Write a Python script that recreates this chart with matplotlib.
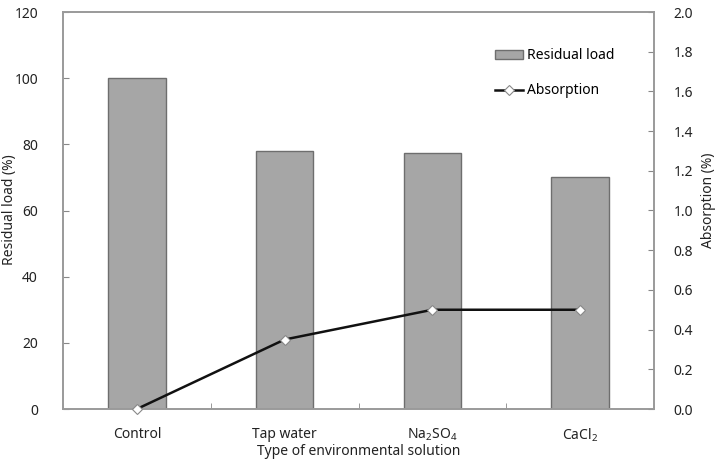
import matplotlib
matplotlib.use("Agg")
import matplotlib.pyplot as plt
import numpy as np

categories = ["Control", "Tap water", "Na$_2$SO$_4$", "CaCl$_2$"]
residual_load = [100, 78, 77.5, 70]
absorption = [0.0, 0.35, 0.50, 0.50]

plt.rcParams['font.family'] = ['Noto Sans', 'DejaVu Sans']
plt.rcParams['mathtext.fontset'] = 'custom'
plt.rcParams['mathtext.rm'] = 'Noto Sans'
plt.rcParams['mathtext.it'] = 'Noto Sans'

fig = plt.figure(figsize=(7.18, 4.61), dpi=100)
ax = fig.add_axes([63/718, 1 - 409/461, (654-63)/718, (409-12)/461])
x = np.arange(len(categories))
ax.bar(x, residual_load, width=0.39, color='#a6a6a6', edgecolor='#6e6e6e', linewidth=1.0,
       label='Residual load', zorder=2)
ax.set_xlim(-0.5, len(categories) - 0.5)
ax.set_ylim(0, 120)
ax.set_yticks(np.arange(0, 121, 20))
ax.set_xticks(x)
ax.set_xticklabels(categories, fontsize=10)
ax.set_xticks(np.arange(-0.5, len(categories), 1), minor=True)
ax.tick_params(axis='x', which='major', length=0, pad=13, colors='#222222')
ax.tick_params(axis='x', which='minor', direction='in', length=4, color='#888888')
ax.tick_params(axis='y', direction='in', length=4, color='#888888', labelsize=10, pad=18,
               labelcolor='#222222')
for s in ax.spines.values():
    s.set_color('#9a9a9a')
    s.set_linewidth(1.2)
ax.set_xlabel('Type of environmental solution', fontsize=10, labelpad=0, color='#222222')
fig.text(10/718, 1 - 210/461, 'Residual load (%)', rotation=90, fontsize=10,
         ha='center', va='center', color='#222222')

ax2 = ax.twinx()
ax2.plot(x, absorption, color='#111111', linewidth=1.8, marker='D', markersize=5,
         markerfacecolor='white', markeredgecolor='#888888', markeredgewidth=0.8,
         label='Absorption', zorder=3, clip_on=False)
ax2.set_ylim(0, 2.0)
ax2.set_yticks(np.arange(0, 2.01, 0.2))
ax2.set_yticklabels([f"{v:.1f}" for v in np.arange(0, 2.01, 0.2)])
ax2.tick_params(axis='y', direction='in', length=4, color='#888888', labelsize=10, pad=14,
                labelcolor='#222222')
for s in ax2.spines.values():
    s.set_color('#9a9a9a')
    s.set_linewidth(1.2)
fig.text(709/718, 1 - 200/461, 'Absorption (%)', rotation=90, fontsize=10,
         ha='center', va='center', color='#222222')

h1, l1 = ax.get_legend_handles_labels()
h2, l2 = ax2.get_legend_handles_labels()
leg = ax.legend(h1 + h2, l1 + l2, loc='upper left', bbox_to_anchor=(0.71, 0.94),
                frameon=False, fontsize=10, handlelength=2.0, labelspacing=1.45,
                handletextpad=0.3)

fig.savefig('out.png', dpi=100)
